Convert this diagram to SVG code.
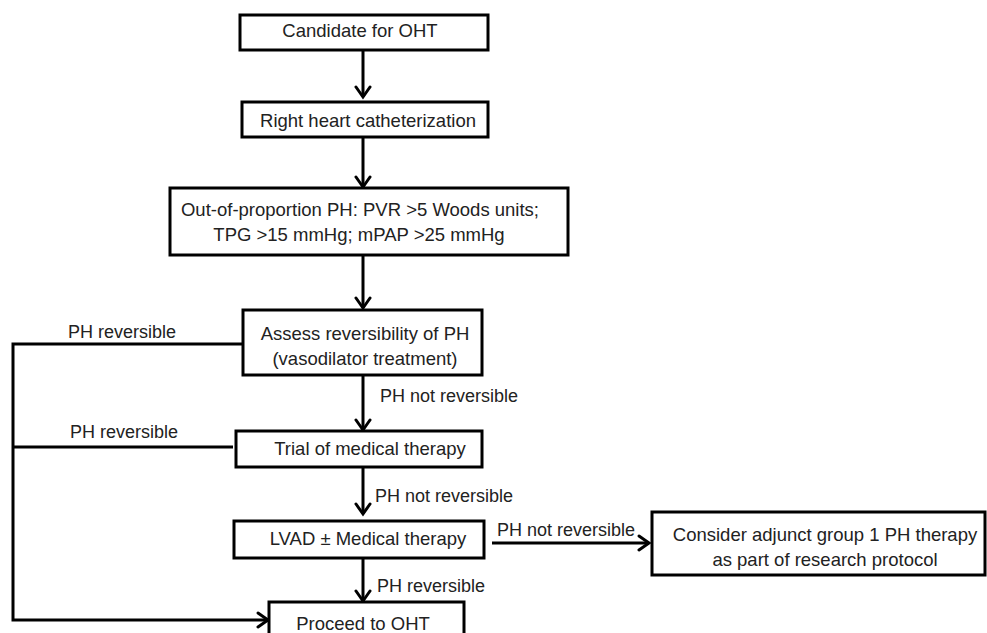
<svg xmlns="http://www.w3.org/2000/svg" width="987" height="633" viewBox="0 0 987 633">
<defs>
<marker id="ah" viewBox="0 0 18 18" refX="12" refY="9" markerWidth="18" markerHeight="18" markerUnits="userSpaceOnUse" orient="auto">
<path d="M2,2 L12,9 L2,16" fill="none" stroke="#000" stroke-width="3" stroke-linecap="round" stroke-linejoin="miter"/>
</marker>
<style>
.box{fill:#fff;stroke:#000;stroke-width:3}
.t{font-family:"Liberation Sans",Arial,sans-serif;font-size:18.5px;fill:#222;text-anchor:middle}
.l{font-family:"Liberation Sans",Arial,sans-serif;font-size:18px;fill:#222}
.c{fill:none;stroke:#000;stroke-width:3}
</style>
</defs>
<rect width="987" height="633" fill="#fff"/>
<g id="connectors">
<line class="c" x1="363" y1="50" x2="363" y2="97" marker-end="url(#ah)"/>
<line class="c" x1="363" y1="137" x2="363" y2="187" marker-end="url(#ah)"/>
<line class="c" x1="363" y1="255" x2="363" y2="308" marker-end="url(#ah)"/>
<line class="c" x1="363" y1="375" x2="363" y2="430" marker-end="url(#ah)"/>
<line class="c" x1="363" y1="467" x2="363" y2="514" marker-end="url(#ah)"/>
<line class="c" x1="363" y1="558" x2="363" y2="601" marker-end="url(#ah)"/>
<line class="c" x1="492" y1="543" x2="649" y2="543" marker-end="url(#ah)"/>
<polyline class="c" points="243,344 13,344 13,620 268,620" marker-end="url(#ah)"/>
<line class="c" x1="233" y1="447" x2="13" y2="447"/>
<text class="l" x="68" y="338">PH reversible</text>
<text class="l" x="380" y="402">PH not reversible</text>
<text class="l" x="70" y="438">PH reversible</text>
<text class="l" x="375" y="502">PH not reversible</text>
<text class="l" x="497" y="536">PH not reversible</text>
<text class="l" x="377" y="592">PH reversible</text>
</g>
<g id="n1"><rect class="box" x="240" y="15" width="248" height="35"/><text class="t" x="360" y="37">Candidate for OHT</text></g>
<g id="n2"><rect class="box" x="242" y="102" width="246" height="35"/><text class="t" x="368" y="127">Right heart catheterization</text></g>
<g id="n3"><rect class="box" x="170" y="188" width="398" height="67"/><text class="t" x="360" y="216">Out-of-proportion PH: PVR &gt;5 Woods units;</text><text class="t" x="359" y="241">TPG &gt;15 mmHg; mPAP &gt;25 mmHg</text></g>
<g id="n4"><rect class="box" x="243" y="310" width="239" height="65"/><text class="t" x="365" y="340">Assess reversibility of PH</text><text class="t" x="365" y="365">(vasodilator treatment)</text></g>
<g id="n5"><rect class="box" x="236" y="431" width="246" height="36"/><text class="t" x="370" y="455">Trial of medical therapy</text></g>
<g id="n6"><rect class="box" x="234" y="521" width="250" height="37"/><text class="t" x="368" y="545">LVAD ± Medical therapy</text></g>
<g id="n7"><rect class="box" x="652" y="512" width="333" height="63"/><text class="t" x="825" y="541">Consider adjunct group 1 PH therapy</text><text class="t" x="825" y="566">as part of research protocol</text></g>
<g id="n8"><rect class="box" x="269" y="602" width="195" height="40"/><text class="t" x="363" y="630">Proceed to OHT</text></g>
</svg>
